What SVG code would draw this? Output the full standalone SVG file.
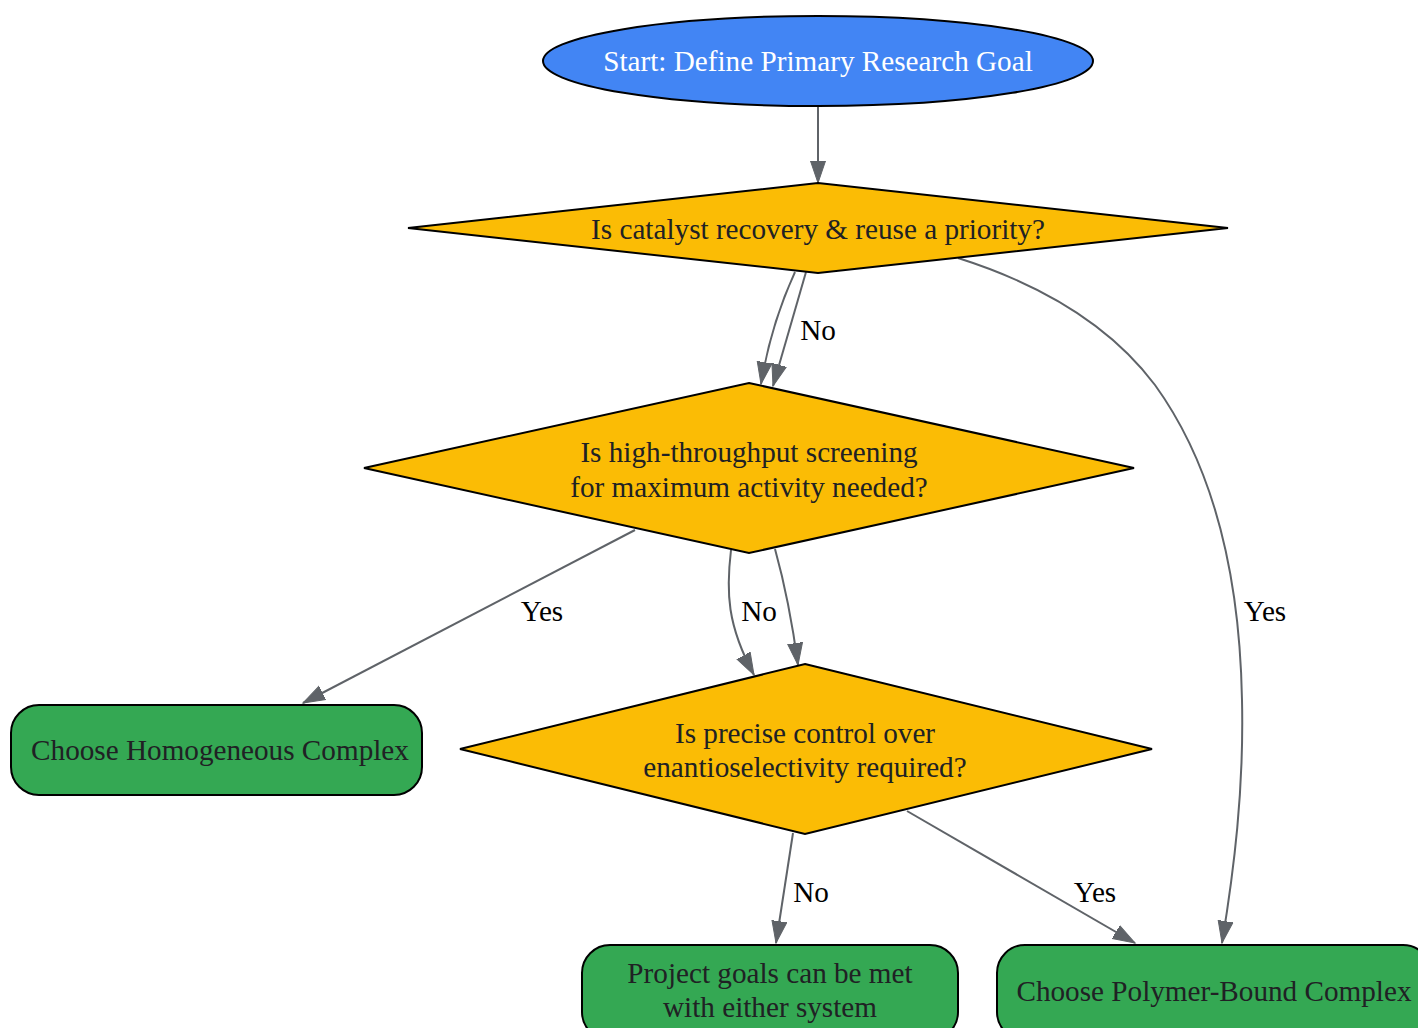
<svg xmlns="http://www.w3.org/2000/svg" width="1418" height="1028" viewBox="0 0 1418 1028">
<style>
.n{stroke:#000;stroke-width:2}
.start{fill:#4285F4}
.dec{fill:#FBBC05}
.out{fill:#34A853}
.t{font-family:"Liberation Serif","Times New Roman",serif;font-size:29.2px;text-anchor:middle;fill:#202124}
.w{fill:#fff}
.l{font-family:"Liberation Serif","Times New Roman",serif;font-size:29.2px;text-anchor:middle;fill:#000}
.e{fill:none;stroke:#5F6368;stroke-width:2}
</style>
<defs>
<marker id="a" markerUnits="userSpaceOnUse" markerWidth="24" markerHeight="18" refX="22" refY="9" orient="auto">
<path d="M0,1.5 L22,9 L0,16.5 Z" fill="#5F6368" stroke="#5F6368" stroke-width="1"/>
</marker>
</defs>
<rect width="1418" height="1028" fill="#fff"/>
<g id="edges">
<path class="e" marker-end="url(#a)" d="M818,106 L818,183"/>
<path class="e" marker-end="url(#a)" d="M795,272 C784,296 770,330 761,384"/>
<path class="e" marker-end="url(#a)" d="M806,272 L773,386"/>
<path class="e" marker-end="url(#a)" d="M958,258 C1040,284 1110,325 1155,385 C1220,475 1240,590 1242,700 C1244,790 1234,870 1222,943"/>
<path class="e" marker-end="url(#a)" d="M635,530 L303,703"/>
<path class="e" marker-end="url(#a)" d="M731,550 C726,592 727,625 754,675"/>
<path class="e" marker-end="url(#a)" d="M775,549 C785,585 792,620 798,665"/>
<path class="e" marker-end="url(#a)" d="M793,833 L776,943"/>
<path class="e" marker-end="url(#a)" d="M907,811 L1135,943"/>
<text class="l" x="818" y="340">No</text>
<text class="l" x="1265" y="621">Yes</text>
<text class="l" x="542" y="621">Yes</text>
<text class="l" x="759" y="621">No</text>
<text class="l" x="811" y="902">No</text>
<text class="l" x="1095" y="902">Yes</text>
</g>
<g id="start">
<ellipse class="n start" cx="818" cy="61" rx="275" ry="45"/>
<text class="t w" x="818" y="71">Start: Define Primary Research Goal</text>
</g>
<g id="d1">
<polygon class="n dec" points="818,183 1228,228 818,273 408,228"/>
<text class="t" x="818" y="239">Is catalyst recovery &amp; reuse a priority?</text>
</g>
<g id="d2">
<polygon class="n dec" points="749,383 1134,468 749,553 364,468"/>
<text class="t" x="749" y="462">Is high-throughput screening</text>
<text class="t" x="749" y="497">for maximum activity needed?</text>
</g>
<g id="d3">
<polygon class="n dec" points="805,664 1152,749 805,834 460,749"/>
<text class="t" x="805" y="743">Is precise control over</text>
<text class="t" x="805" y="777">enantioselectivity required?</text>
</g>
<g id="homog">
<rect class="n out" x="11" y="705" width="411" height="90" rx="28" ry="28"/>
<text class="t" x="220" y="760">Choose Homogeneous Complex</text>
</g>
<g id="either">
<rect class="n out" x="582" y="945" width="376" height="95" rx="28" ry="28"/>
<text class="t" x="770" y="983">Project goals can be met</text>
<text class="t" x="770" y="1017">with either system</text>
</g>
<g id="polymer">
<rect class="n out" x="997" y="945" width="434" height="95" rx="28" ry="28"/>
<text class="t" x="1214" y="1001">Choose Polymer-Bound Complex</text>
</g>
</svg>
